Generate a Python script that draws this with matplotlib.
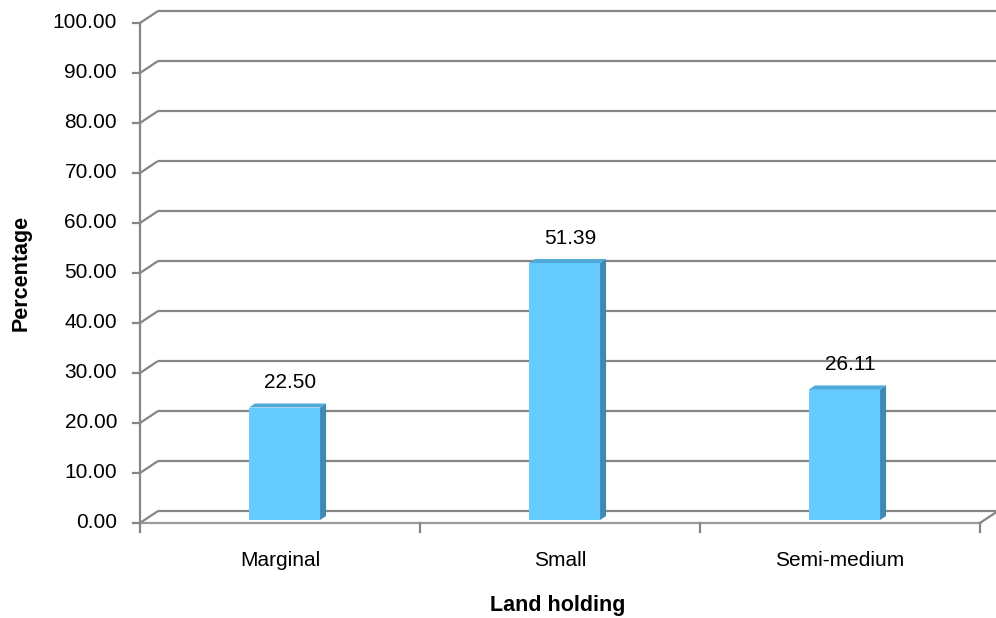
import matplotlib
matplotlib.use("Agg")
import matplotlib.pyplot as plt
from matplotlib.patches import Polygon

plt.rcParams['font.family'] = ['Liberation Sans', 'DejaVu Sans']

categories = ["Marginal", "Small", "Semi-medium"]
percentages = [22.50, 51.39, 26.11]
y_ticks = [0, 10, 20, 30, 40, 50, 60, 70, 80, 90, 100]

grid_col = "#868686"
face_col = "#66CCFF"
side_col = "#3F8AB4"
top_col = "#4FAAD9"

fig = plt.figure(figsize=(9.96, 6.18), dpi=100)
ax = fig.add_axes([140 / 996, 95 / 618, 856 / 996, 513 / 618])
xmax = 856 / 280
ax.set_xlim(0, xmax)
ax.set_ylim(0, 102.6)
ax.axis("off")

# depth of the 3d box (in data units)
dx, dy = 18 / 280, 2.4

# back wall gridlines with their diagonal joins to the front axis
for v in y_ticks:
    ax.plot([0, dx], [v, v + dy], color=grid_col, lw=1.6, clip_on=False,
            solid_capstyle="butt")
    ax.plot([dx, xmax], [v + dy, v + dy], color=grid_col, lw=1.6, clip_on=False,
            solid_capstyle="butt")
    ax.plot([-0.025, 0], [v, v], color=grid_col, lw=1.6, clip_on=False)
    ax.text(-0.082, v, f"{v:.2f}", ha="right", va="center", fontsize=15)

# front axis lines and floor edge
ax.plot([0, 0], [0, 100], color=grid_col, lw=1.6, clip_on=False)
ax.plot([0, 3], [0, 0], color="#9a9a9a", lw=1.6, clip_on=False)
ax.plot([3, 3 + dx], [0, dy], color=grid_col, lw=1.6, clip_on=False)
for i in range(4):
    ax.plot([i, i], [0, -1.8], color=grid_col, lw=1.6, clip_on=False)

# 3d columns: front face via bar, side and top faces as polygons
width = 0.254
z0 = 0.25
xs = [i + 0.5 + z0 * dx for i in range(len(categories))]
base = z0 * dy
ddx, ddy = 6 / 280, 0.8
bars = ax.bar(xs, percentages, width=width, bottom=base, color=face_col,
              edgecolor="none", zorder=3)
for b, val in zip(bars, percentages):
    l, r = b.get_x(), b.get_x() + b.get_width()
    t = b.get_y() + b.get_height()
    ax.add_patch(Polygon([(r, base), (r + ddx, base + ddy), (r + ddx, t + ddy), (r, t)],
                         closed=True, fc=side_col, ec="none", zorder=3))
    ax.add_patch(Polygon([(l, t), (r, t), (r + ddx, t + ddy), (l + ddx, t + ddy)],
                         closed=True, fc=top_col, ec="none", zorder=3))
    ax.text(b.get_x() + b.get_width() / 2 + 0.02, t + 5, f"{val:.2f}",
            ha="center", va="center", fontsize=15)

for i, c in enumerate(categories):
    ax.text(i + 0.5, -7.6, c, ha="center", va="center", fontsize=15)

ax.text(-0.425, 50, "Percentage", rotation=90, ha="center", va="center",
        fontsize=15.5, fontweight="bold")
ax.text(1.493, -16.4, "Land holding", ha="center", va="center",
        fontsize=15.5, fontweight="bold")

fig.savefig("out.png", dpi=100)
